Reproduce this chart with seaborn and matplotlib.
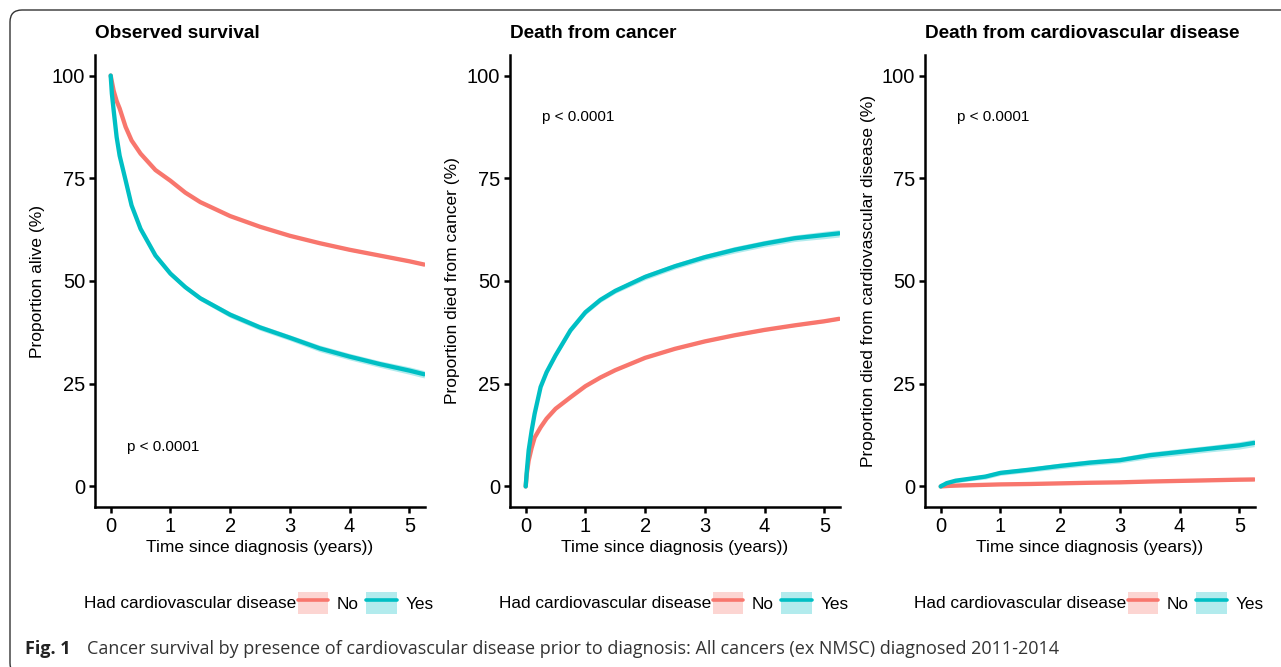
import matplotlib
matplotlib.use("Agg")
import matplotlib.pyplot as plt
from matplotlib.patches import Patch, FancyBboxPatch
from matplotlib.lines import Line2D
from matplotlib.legend_handler import HandlerTuple
from matplotlib.transforms import IdentityTransform
import seaborn as sns
import pandas as pd

# time grid (years since diagnosis)
time_years = [0, 0.02, 0.05, 0.1, 0.15, 0.25, 0.35, 0.5, 0.75, 1, 1.25, 1.5,
              2, 2.5, 3, 3.5, 4, 4.5, 5, 5.25]

# observed survival (%)
alive_no = [100, 98.5, 96.3, 93.8, 92.0, 87.5, 84.2, 81, 77, 74.4, 71.5, 69.2,
            65.8, 63.2, 61, 59.2, 57.6, 56.2, 54.8, 54.0]
alive_yes = [100, 95.6, 91.5, 85, 80.5, 74.5, 68.4, 62.7, 56.2, 51.8, 48.5, 45.8,
             41.8, 38.7, 36.2, 33.6, 31.6, 29.8, 28.2, 27.3]

# died from cancer (%)
cancer_no = [0, 3.2, 6.3, 9.4, 11.9, 14.4, 16.5, 18.9, 21.7, 24.4, 26.5, 28.3,
             31.3, 33.5, 35.3, 36.8, 38.1, 39.2, 40.2, 40.8]
cancer_yes = [0, 3.9, 8.8, 13.6, 17.7, 24.2, 27.8, 31.9, 38, 42.4, 45.4, 47.6,
              51, 53.6, 55.8, 57.6, 59.1, 60.4, 61.2, 61.6]

# died from cardiovascular disease (%)
cvd_no = [0, 0.02, 0.05, 0.1, 0.15, 0.2, 0.25, 0.3, 0.4, 0.5, 0.55, 0.6,
          0.75, 0.9, 1.0, 1.2, 1.35, 1.5, 1.65, 1.7]
cvd_yes = [0, 0.2, 0.4, 0.8, 1.0, 1.4, 1.6, 1.9, 2.4, 3.3, 3.7, 4.1,
           5.0, 5.8, 6.4, 7.6, 8.4, 9.2, 10.0, 10.6]

# half-width of the confidence band (%)
ci_no = [0, 0.1, 0.1, 0.2, 0.2, 0.2, 0.2, 0.2, 0.2, 0.2, 0.2, 0.2,
         0.2, 0.25, 0.25, 0.25, 0.3, 0.3, 0.3, 0.3]
ci_yes = [0, 0.2, 0.3, 0.4, 0.4, 0.5, 0.5, 0.5, 0.6, 0.6, 0.6, 0.6,
          0.7, 0.7, 0.7, 0.8, 0.8, 0.8, 0.9, 0.9]

groups = ["No", "Yes"]
titles = ["Observed survival", "Death from cancer", "Death from cardiovascular disease"]
ylabels = ["Proportion alive (%)", "Proportion died from cancer (%)",
           "Proportion died from cardiovascular disease (%)"]
pval_text = "p < 0.0001"
pval_pos = [(0.28, 9.7), (0.27, 90), (0.27, 90)]
legend_title = "Had cardiovascular disease"
caption_bold = "Fig. 1"
caption = "Cancer survival by presence of cardiovascular disease prior to diagnosis: All cancers (ex NMSC) diagnosed 2011-2014"

palette = {"No": "#F8766D", "Yes": "#00BFC4"}

panels = [(alive_no, alive_yes), (cancer_no, cancer_yes), (cvd_no, cvd_yes)]

sns.set_theme(style="ticks")
plt.rcParams["font.family"] = ["Liberation Sans", "DejaVu Sans"]
plt.rcParams["text.color"] = "black"
plt.rcParams["axes.labelcolor"] = "black"

W, H = 1281, 667
fig = plt.figure(figsize=(W / 100, H / 100), dpi=100)
fig.patch.set_facecolor("white")

lefts = [95, 510, 925]
for i, (no_vals, yes_vals) in enumerate(panels):
    ax = fig.add_axes([lefts[i] / W, 1 - 507 / H, 330 / W, 452 / H])
    df = pd.DataFrame({
        "time": time_years * 2,
        "value": no_vals + yes_vals,
        "ci": ci_no + ci_yes,
        "group": ["No"] * len(time_years) + ["Yes"] * len(time_years),
    })
    for g in groups:
        sub = df[df["group"] == g]
        ax.fill_between(sub["time"], sub["value"] - sub["ci"], sub["value"] + sub["ci"],
                        color=palette[g], alpha=0.3, lw=0)
    sns.lineplot(data=df, x="time", y="value", hue="group", palette=palette,
                 linewidth=3.1, legend=False, ax=ax, estimator=None)

    ax.set_xlim(-0.2625, 5.2625)
    ax.set_ylim(-5, 105)
    ax.set_xticks([0, 1, 2, 3, 4, 5])
    ax.set_yticks([0, 25, 50, 75, 100])
    ax.tick_params(axis="both", labelsize=14.5, length=4, width=1.8, color="black",
                   labelcolor="black", pad=3)
    for s in ["top", "right"]:
        ax.spines[s].set_visible(False)
    for s in ["left", "bottom"]:
        ax.spines[s].set_linewidth(1.8)
        ax.spines[s].set_color("black")
    ax.set_xlabel("Time since diagnosis (years))", fontsize=12.5, color="black", labelpad=3)
    ax.set_ylabel(ylabels[i], fontsize=12.5, color="black")
    ax.yaxis.set_label_coords(-0.15, 0.5)
    ax.text(pval_pos[i][0], pval_pos[i][1], pval_text, fontsize=11, ha="left", va="center")

    fig.text(lefts[i] / W, 1 - 33 / H, titles[i], fontsize=13.7, fontweight="bold",
             ha="left", va="center", color="black")

    # legend below each panel
    ax.text(0.609, -0.2124, legend_title, transform=ax.transAxes, fontsize=12.4,
            ha="right", va="center")
    handles = [(Patch(facecolor=palette[g], alpha=0.3, edgecolor="none"),
                Line2D([], [], color=palette[g], lw=2.6)) for g in groups]
    leg = ax.legend(handles, groups, handler_map={tuple: HandlerTuple(ndivide=1)},
                    loc="center left", bbox_to_anchor=(0.615, -0.2124), ncol=2,
                    frameon=False, fontsize=12.4, handlelength=1.75, handleheight=1.6,
                    handletextpad=0.5, columnspacing=0.45, borderpad=0, borderaxespad=0)
    for t in leg.get_texts():
        t.set_color("black")

# rounded frame around the figure
frame = FancyBboxPatch((10, -8), 1300, 665,
                       boxstyle="round,pad=0,rounding_size=12",
                       transform=IdentityTransform(), facecolor="none",
                       edgecolor="#333333", lw=1.0)
fig.add_artist(frame)

fig.text(25 / W, 1 - 649 / H, caption_bold, fontsize=13, fontweight="bold",
         family=["Open Sans", "DejaVu Sans"], ha="left", va="center", color="#222222")
fig.text(87 / W, 1 - 649 / H, caption, fontsize=13, family=["Open Sans", "DejaVu Sans"],
         ha="left", va="center", color="#333333")

fig.savefig("out.png", dpi=100)
